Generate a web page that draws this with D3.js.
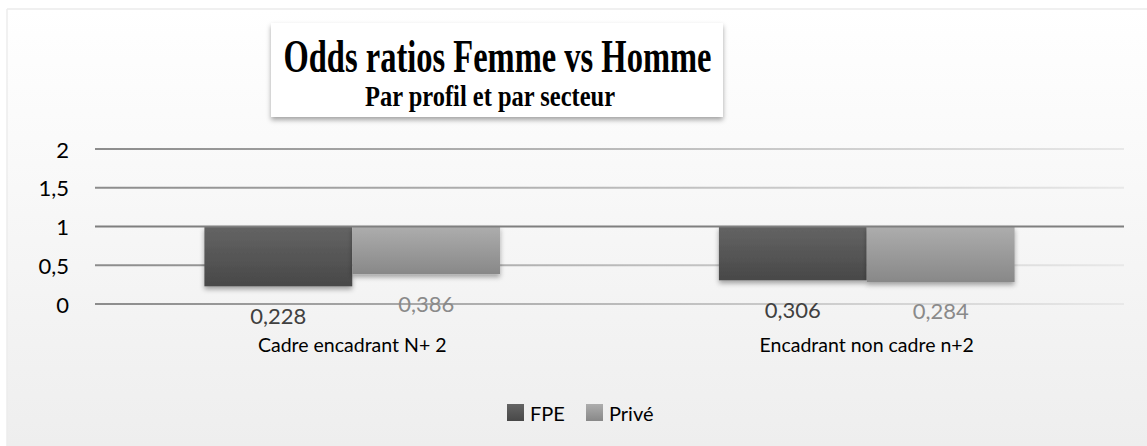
<!DOCTYPE html>
<html>
<head>
<meta charset="utf-8">
<script src="https://cdn.jsdelivr.net/npm/d3@7"></script>
<style>
  body { margin: 0; background: #fff; }
  svg { display: block; }
</style>
</head>
<body>
<div id="chart"></div>
<script>
// data
const categories = ["Cadre encadrant N+ 2", "Encadrant non cadre n+2"];
const seriesNames = ["FPE", "Privé"];
const fpeValues = [0.228, 0.306];
const priveValues = [0.386, 0.284];
const yTicks = [0, 0.5, 1, 1.5, 2];
const baseline = 1; // axis crosses at 1

const width = 1147, height = 446;
const margin = { top: 149, right: 23, bottom: 141, left: 95 };
const sans = "Lato, 'Open Sans', sans-serif";

const svg = d3.select("#chart").append("svg")
  .attr("width", width).attr("height", height);

const defs = svg.append("defs");

const bg = defs.append("linearGradient").attr("id", "bg")
  .attr("x1", 0).attr("y1", 0).attr("x2", 0).attr("y2", 1);
bg.append("stop").attr("offset", "0%").attr("stop-color", "#ffffff");
bg.append("stop").attr("offset", "100%").attr("stop-color", "#eeeeee");

const grid = defs.append("linearGradient").attr("id", "grid")
  .attr("gradientUnits", "userSpaceOnUse")
  .attr("x1", margin.left).attr("x2", width - margin.right).attr("y1", 0).attr("y2", 0);
grid.append("stop").attr("offset", "0%").attr("stop-color", "#8c8c8c");
grid.append("stop").attr("offset", "100%").attr("stop-color", "#e8e8e8");

function barGrad(id, top, bottom) {
  const g = defs.append("linearGradient").attr("id", id)
    .attr("x1", 0).attr("y1", 0).attr("x2", 0).attr("y2", 1);
  g.append("stop").attr("offset", "0%").attr("stop-color", top);
  g.append("stop").attr("offset", "100%").attr("stop-color", bottom);
}
barGrad("gFPE", "#646464", "#484848");
barGrad("gPrive", "#adadad", "#888888");
const fills = { "FPE": "url(#gFPE)", "Privé": "url(#gPrive)" };
const labelColors = { "FPE": "#404040", "Privé": "#8a8a8a" };

const shadow = defs.append("filter").attr("id", "shadow")
  .attr("x", "-20%").attr("y", "-20%").attr("width", "140%").attr("height", "160%");
shadow.append("feDropShadow").attr("dx", 0).attr("dy", 3).attr("stdDeviation", 2.5)
  .attr("flood-color", "#000").attr("flood-opacity", 0.35);

// chart area background
svg.append("rect").attr("x", 7).attr("y", 9).attr("width", width - 7).attr("height", height - 9)
  .attr("fill", "url(#bg)");
svg.append("line").attr("x1", 7).attr("x2", width).attr("y1", 9).attr("y2", 9)
  .attr("stroke", "#ebebeb").attr("stroke-width", 1.5);
svg.append("line").attr("x1", 7).attr("x2", 7).attr("y1", 9).attr("y2", height)
  .attr("stroke", "#ececec").attr("stroke-width", 1.5);

const x0 = d3.scaleBand().domain(categories)
  .range([margin.left, width - margin.right]).paddingInner(0).paddingOuter(0);
const x1 = d3.scaleBand().domain(seriesNames)
  .range([0, x0.bandwidth()]).paddingOuter(0.74).paddingInner(0);
const y = d3.scaleLinear().domain([0, 2]).range([height - margin.bottom - 1, margin.top]);

// gridlines
svg.append("g").selectAll("line")
  .data(yTicks.filter(t => t !== baseline))
  .join("line")
  .attr("x1", margin.left).attr("x2", width - margin.right)
  .attr("y1", d => y(d)).attr("y2", d => y(d))
  .attr("stroke", "url(#grid)").attr("stroke-width", 2);

// tick labels
svg.append("g").selectAll("text")
  .data(yTicks)
  .join("text")
  .attr("x", 69).attr("y", d => y(d))
  .attr("text-anchor", "end").attr("dominant-baseline", "central")
  .style("font-family", sans).style("font-size", "22px")
  .attr("fill", "#000")
  .text(d => d3.format(".1~f")(d).replace(".", ","));

// bars hanging from the baseline
const rows = categories.map((c, i) => ({
  cat: c,
  values: [
    { series: "FPE", value: fpeValues[i] },
    { series: "Privé", value: priveValues[i] }
  ]
}));

const groups = svg.append("g").selectAll("g")
  .data(rows).join("g")
  .attr("transform", d => `translate(${x0(d.cat)},0)`);

groups.selectAll("rect")
  .data(d => d.values).join("rect")
  .attr("x", d => x1(d.series))
  .attr("width", x1.bandwidth())
  .attr("y", y(baseline))
  .attr("height", d => y(d.value) - y(baseline))
  .attr("fill", d => fills[d.series])
  .attr("filter", "url(#shadow)");

// axis line at 1
svg.append("line")
  .attr("x1", margin.left).attr("x2", width - margin.right)
  .attr("y1", y(baseline)).attr("y2", y(baseline))
  .attr("stroke", "#7f7f7f").attr("stroke-width", 2);

// value labels, outside the bar end
groups.selectAll("text.val")
  .data(d => d.values).join("text")
  .attr("class", "val")
  .attr("x", d => x1(d.series) + x1.bandwidth() / 2)
  .attr("y", d => y(d.value) + 29)
  .attr("text-anchor", "middle").attr("dominant-baseline", "central")
  .style("font-family", sans).style("font-size", "22px")
  .attr("fill", d => labelColors[d.series])
  .text(d => d3.format(".3f")(d.value).replace(".", ","));

// category labels
svg.append("g").selectAll("text")
  .data(categories).join("text")
  .attr("x", d => x0(d) + x0.bandwidth() / 2)
  .attr("y", 352)
  .attr("text-anchor", "middle")
  .style("font-family", sans).style("font-size", "19.5px")
  .attr("fill", "#000")
  .text(d => d);

// title box
svg.append("rect").attr("x", 271).attr("y", 23).attr("width", 452).attr("height", 94)
  .attr("fill", "#fff").attr("filter", "url(#shadow)");
svg.append("text").attr("x", 497.5).attr("y", 72)
  .attr("text-anchor", "middle")
  .style("font-family", "'Liberation Serif', serif").style("font-weight", "bold")
  .style("font-size", "47px")
  .attr("textLength", 428).attr("lengthAdjust", "spacingAndGlyphs")
  .text("Odds ratios Femme vs Homme");
svg.append("text").attr("x", 490).attr("y", 106)
  .attr("text-anchor", "middle")
  .style("font-family", "'Liberation Serif', serif").style("font-weight", "bold")
  .style("font-size", "29px")
  .attr("textLength", 250).attr("lengthAdjust", "spacingAndGlyphs")
  .text("Par profil et par secteur");

// legend
const legendX = [507, 586];
const legend = svg.append("g").selectAll("g")
  .data(seriesNames).join("g")
  .attr("transform", (d, i) => `translate(${legendX[i]},404)`);
legend.append("rect").attr("width", 17).attr("height", 17)
  .attr("fill", d => fills[d]);
legend.append("text").attr("x", 23).attr("y", 9)
  .attr("dominant-baseline", "central")
  .style("font-family", sans).style("font-size", "20px")
  .attr("fill", "#000")
  .text(d => d);
</script>
</body>
</html>
